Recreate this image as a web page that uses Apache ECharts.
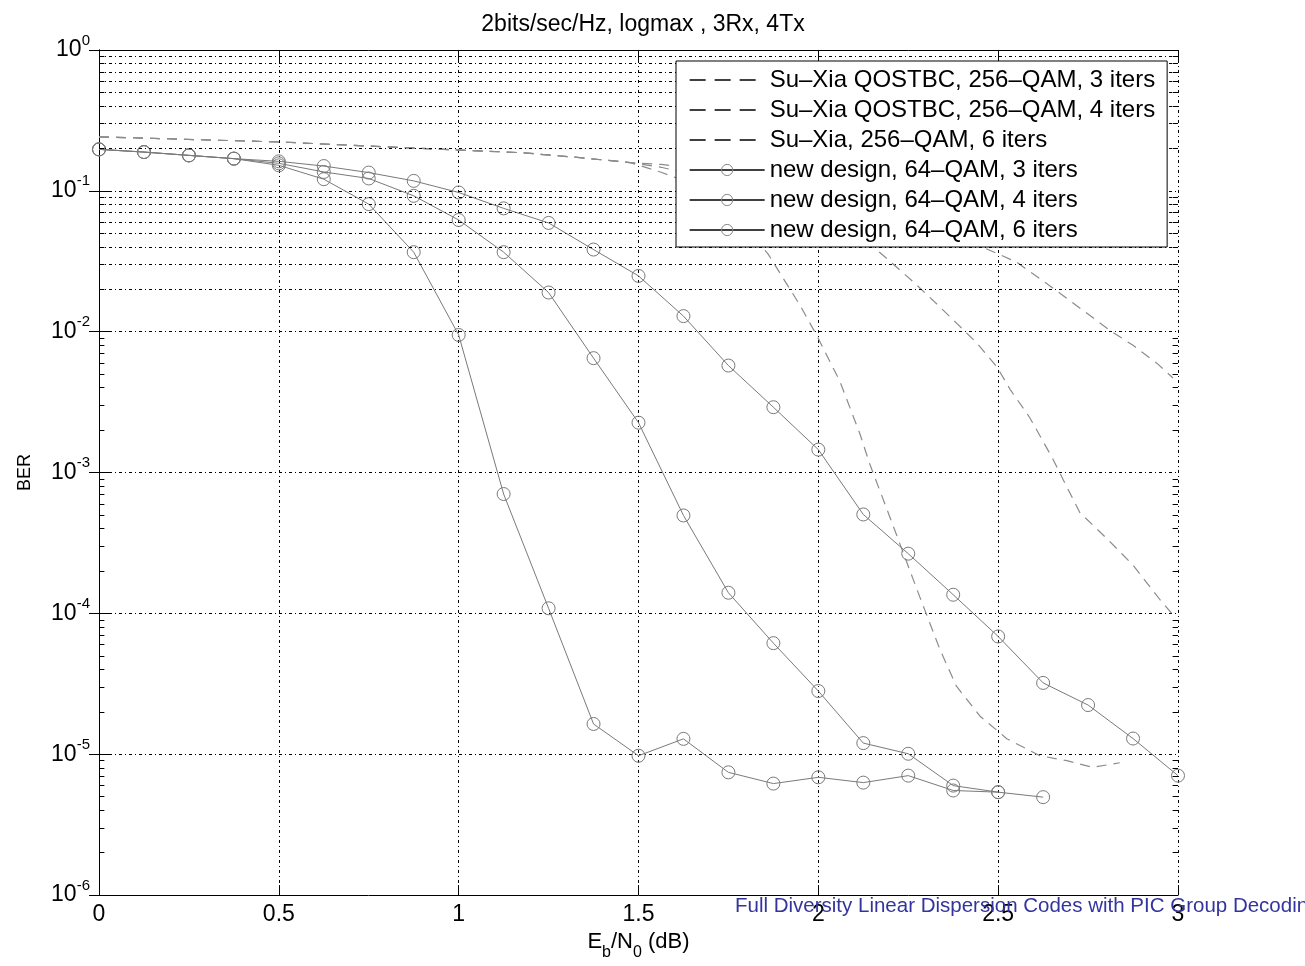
<!DOCTYPE html>
<html>
<head>
<meta charset="utf-8">
<script src="https://cdn.jsdelivr.net/npm/echarts@6/dist/echarts.min.js"></script>
<style>html,body{margin:0;padding:0;background:#fff}#c{width:1305px;height:966px}</style>
</head>
<body>
<div id="c"></div>
<script>
// ---- data ----
const ebn0 = [0,0.125,0.25,0.375,0.5,0.625,0.75,0.875,1,1.125,1.25,1.375,1.5,1.625,1.75,1.875,2,2.125,2.25,2.375,2.5,2.625,2.75,2.875,3];
const newDesign3 = [0.197,0.1885,0.1786,0.1693,0.162,0.150,0.1348,0.1177,0.0974,0.0751,0.0592,0.0383,0.0249,0.0129,0.00575,0.00291,0.001455,5.04e-4,2.655e-4,1.357e-4,6.86e-5,3.21e-5,2.235e-5,1.293e-5,7.05e-6];
const newDesign4 = [0.197,0.1885,0.1786,0.1693,0.1568,0.1362,0.1224,0.0922,0.0621,0.0367,0.01897,0.00649,0.00226,4.96e-4,1.402e-4,6.15e-5,2.81e-5,1.2e-5,1.008e-5,5.99e-6,5.38e-6];
const newDesign6 = [0.197,0.1885,0.1786,0.1693,0.1518,0.121,0.0805,0.0367,0.00948,7.04e-4,1.087e-4,1.64e-5,9.76e-6,1.286e-5,7.44e-6,6.19e-6,6.86e-6,6.29e-6,7.05e-6,5.53e-6,5.38e-6,4.96e-6];

const suXia3X = [0,0.507,1.003,1.175,1.337,1.477,1.563,1.8,2.05,2.3,2.551,2.616,2.68,2.747,2.811,2.875,2.941,2.986];
const suXia3Y = [0.242,0.222,0.1947,0.1866,0.172,0.1587,0.154,0.13,0.1,0.06,0.0312,0.0238,0.0181,0.0135,0.0102,0.0080,0.00598,0.00469];
const suXia4X = [0,0.507,1.003,1.175,1.337,1.477,1.563,1.75,1.95,2.152,2.207,2.263,2.319,2.385,2.441,2.497,2.533,2.588,2.652,2.691,2.727,2.802,2.875,2.95,2.99];
const suXia4Y = [0.242,0.222,0.1947,0.1866,0.172,0.1587,0.147,0.115,0.075,0.0401,0.0304,0.0227,0.01667,0.01147,0.00828,0.0056,0.0039,0.00245,0.00125,7.9e-4,5.2e-4,3.4e-4,2.2e-4,1.25e-4,9.5e-5];
const suXia6X = [0,0.507,1.003,1.175,1.337,1.477,1.563,1.65,1.75,1.86,1.949,1.995,2.06,2.116,2.143,2.199,2.282,2.338,2.384,2.449,2.524,2.616,2.691,2.763,2.838];
const suXia6Y = [0.242,0.222,0.1947,0.1866,0.172,0.1587,0.1355,0.112,0.075,0.0357,0.0154,0.00947,0.00444,0.00187,0.00115,4.82e-4,1.31e-4,5.55e-5,3.04e-5,1.87e-5,1.29e-5,9.76e-6,9.0e-6,8.07e-6,8.7e-6];

const seriesNames = [
  'Su–Xia QOSTBC, 256–QAM, 3 iters',
  'Su–Xia QOSTBC, 256–QAM, 4 iters',
  'Su–Xia, 256–QAM, 6 iters',
  'new design, 64–QAM, 3 iters',
  'new design, 64–QAM, 4 iters',
  'new design, 64–QAM, 6 iters'
];
const xTicks = [0,0.5,1,1.5,2,2.5,3];
const titleText = '2bits/sec/Hz, logmax , 3Rx, 4Tx';
const watermark = 'Full Diversity Linear Dispersion Codes with PIC Group Decoding';

// ---- helpers ----
const zip = (xs, ys) => ys.map((y, i) => [xs[i], y]);
const FONT = '"Liberation Sans", Arial, Helvetica, sans-serif';
const gridDot = [3,3,1,3];
const minorVals = [];
for (let k = -6; k <= -1; k++) for (let m = 2; m <= 9; m++) minorVals.push(+(m * Math.pow(10, k)).toPrecision(3));

const dashedStyle = {color: '#8c8c8c', width: 1.2, type: [10, 7]};
const solidStyle = {color: '#7a7a7a', width: 1};
const markerStyle = {color: 'rgba(0,0,0,0)', borderColor: '#7a7a7a', borderWidth: 1};

function dashed(name, xs, ys) {
  return {name, type: 'line', data: zip(xs, ys), symbol: 'none', color: '#8c8c8c',
    itemStyle: {color: '#8c8c8c'}, lineStyle: dashedStyle, z: 3, xAxisIndex: 0, yAxisIndex: 0};
}
function solid(name, ys) {
  return {name, type: 'line', data: zip(ebn0, ys), symbol: 'circle', symbolSize: 13, color: '#7a7a7a',
    lineStyle: solidStyle, itemStyle: markerStyle, z: 4, xAxisIndex: 0, yAxisIndex: 0};
}

const chart = echarts.init(document.getElementById('c'), null, {renderer: 'canvas'});
const axisCommon = {
  axisLine: {show: true, lineStyle: {color: '#000', width: 1}},
  axisTick: {show: true, inside: true, length: 10, lineStyle: {color: '#000', width: 1}}
};
const option = {
  animation: false,
  backgroundColor: '#fff',
  textStyle: {fontFamily: FONT},
  title: {
    text: titleText, left: 638, top: 8, textAlign: 'center',
    textStyle: {fontFamily: FONT, fontSize: 23, fontWeight: 'normal', color: '#000'}
  },
  grid: {left: 99, right: 127, top: 50, bottom: 66, containLabel: false},
  xAxis: [
    Object.assign({
      type: 'value', min: 0, max: 3, interval: 0.5, position: 'bottom',
      name: '{n|E}{s|b}{n|/N}{s|0}{n| (dB)}', nameLocation: 'middle', nameGap: 32,
      nameTextStyle: {rich: {
        n: {fontFamily: FONT, fontSize: 22, color: '#000', lineHeight: 30, verticalAlign: 'top'},
        s: {fontFamily: FONT, fontSize: 16, color: '#000', lineHeight: 30, verticalAlign: 'bottom'}
      }},
      axisLabel: {show: true, fontFamily: FONT, fontSize: 23, color: '#000', margin: 8,
        formatter: v => String(v)},
      splitLine: {show: true, lineStyle: {color: '#000', width: 1, type: gridDot}}
    }, axisCommon),
    Object.assign({
      type: 'value', min: 0, max: 3, interval: 0.5, position: 'top',
      axisLabel: {show: false}, splitLine: {show: false}
    }, axisCommon)
  ],
  yAxis: [
    Object.assign({
      type: 'log', logBase: 10, min: 1e-6, max: 1, interval: 1, position: 'left',
      name: 'BER', nameLocation: 'middle', nameRotate: 90, nameGap: 65,
      nameTextStyle: {fontFamily: FONT, fontSize: 18, color: '#000'},
      axisLabel: {show: true, margin: 9, color: '#000',
        formatter: v => '{b|10}{s|' + Math.round(Math.log10(v)) + '}',
        rich: {
          b: {fontFamily: FONT, fontSize: 23, color: '#000', lineHeight: 34},
          s: {fontFamily: FONT, fontSize: 15, color: '#000', lineHeight: 15, verticalAlign: 'top'}
        }},
      splitLine: {show: true, lineStyle: {color: '#000', width: 1, type: gridDot}}
    }, axisCommon),
    Object.assign({
      type: 'log', logBase: 10, min: 1e-6, max: 1, interval: 1, position: 'right',
      axisLabel: {show: false}, splitLine: {show: false}
    }, axisCommon)
  ],
  legend: {
    orient: 'vertical', left: 676, top: 61,
    padding: [7, 12, 5, 13], itemGap: 6, itemWidth: 75, itemHeight: 14,
    backgroundColor: '#fff', borderColor: '#000', borderWidth: 1, borderRadius: 0,
    textStyle: {fontFamily: FONT, fontSize: 24, color: '#000', lineHeight: 24},
    lineStyle: {color: '#000', width: 1.3},
    z: 10,
    data: seriesNames.map((n, i) => i < 3 ? ({
      name: n,
      lineStyle: {color: '#000', width: 1.3, type: [16, 9]},
      itemStyle: {opacity: 0, color: 'rgba(0,0,0,0)', borderWidth: 0}
    }) : ({
      name: n,
      lineStyle: {color: '#000', width: 1.3, type: 'solid'},
      itemStyle: {color: 'rgba(0,0,0,0)', borderColor: '#8a8a8a', borderWidth: 1}
    }))
  },
  graphic: [{
    type: 'text', left: 735, top: 896, z: 100,
    style: {text: watermark, fontFamily: FONT, fontSize: 20.5, fill: '#34349e'}
  }],
  series: [
    // minor log grid lines and minor ticks (helper)
    {
      type: 'line', data: [], silent: true, z: 1,
      markLine: {
        silent: true, symbol: ['none', 'none'], label: {show: false},
        lineStyle: {color: '#000', width: 1, type: gridDot},
        emphasis: {disabled: true},
        data: minorVals.map(v => ({yAxis: v}))
      }
    },
    {
      type: 'line', data: [], silent: true, z: 1,
      markLine: {
        silent: true, symbol: ['none', 'none'], label: {show: false},
        lineStyle: {color: '#000', width: 1, type: 'solid'},
        emphasis: {disabled: true},
        data: minorVals.flatMap(v => [
          [{coord: [0, v]}, {coord: [0.015, v]}],
          [{coord: [2.985, v]}, {coord: [3, v]}]
        ])
      }
    },
    dashed(seriesNames[0], suXia3X, suXia3Y),
    dashed(seriesNames[1], suXia4X, suXia4Y),
    dashed(seriesNames[2], suXia6X, suXia6Y),
    solid(seriesNames[3], newDesign3),
    solid(seriesNames[4], newDesign4),
    solid(seriesNames[5], newDesign6)
  ]
};
chart.setOption(option);
</script>
</body>
</html>
